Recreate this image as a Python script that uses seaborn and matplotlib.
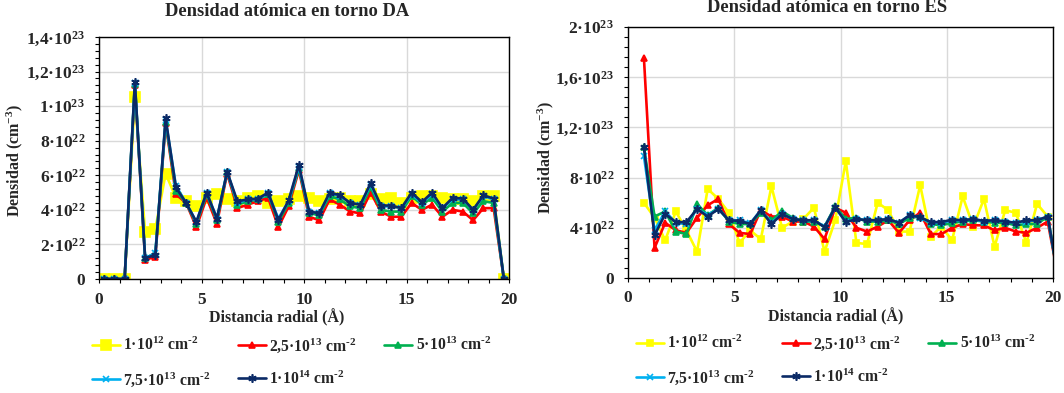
import matplotlib
matplotlib.use("Agg")
import matplotlib.pyplot as plt
import numpy as np
import pandas as pd
import seaborn as sns
from matplotlib.ticker import MultipleLocator

# ------------------------------------------------------------
# Data (densities in units of 1e22 cm^-3)
# ------------------------------------------------------------
SCALE = 1e22

x_da = [0.25, 0.75, 1.25, 1.75, 2.25, 2.75, 3.25, 3.75, 4.25, 4.75,
        5.25, 5.75, 6.25, 6.75, 7.25, 7.75, 8.25, 8.75, 9.25, 9.75,
        10.25, 10.75, 11.25, 11.75, 12.25, 12.75, 13.25, 13.75, 14.25, 14.75,
        15.25, 15.75, 16.25, 16.75, 17.25, 17.75, 18.25, 18.75, 19.25, 19.75]

da_1e12 = [0, 0, 0, 10.5, 2.7, 2.9, 6.1, 4.7, 4.5, 4.2,
           4.7, 4.9, 4.6, 4.5, 4.7, 4.8, 4.4, 4.5, 4.6, 4.8,
           4.7, 4.5, 4.6, 4.7, 4.5, 4.5, 4.9, 4.6, 4.7, 4.4,
           4.7, 4.8, 4.8, 4.7, 4.6, 4.6, 4.5, 4.8, 4.8, 0]
da_25e13 = [0, 0, 0, 11.2, 1.1, 1.3, 9.0, 4.9, 4.4, 3.0,
            4.7, 3.2, 6.1, 4.1, 4.3, 4.5, 4.7, 3.0, 4.2, 6.3,
            3.6, 3.4, 4.6, 4.3, 3.9, 3.8, 5.0, 3.9, 3.6, 3.6,
            4.4, 4.0, 4.3, 3.6, 4.0, 3.9, 3.4, 4.1, 4.1, 0]
da_5e13 = [0, 0, 0, 11.3, 1.2, 1.5, 9.1, 5.1, 4.4, 3.2,
           4.9, 3.4, 6.2, 4.3, 4.5, 4.6, 4.9, 3.3, 4.4, 6.4,
           3.8, 3.7, 4.8, 4.6, 4.2, 4.1, 5.3, 4.0, 3.9, 3.9,
           4.8, 4.3, 4.7, 3.9, 4.4, 4.4, 3.8, 4.5, 4.4, 0]
da_75e13 = [0, 0, 0, 11.35, 1.2, 1.5, 9.2, 5.4, 4.4, 3.3,
            5.0, 3.5, 6.2, 4.4, 4.6, 4.6, 4.95, 3.5, 4.5, 6.5,
            3.9, 3.8, 4.95, 4.8, 4.4, 4.3, 5.45, 4.2, 4.2, 4.1,
            4.9, 4.4, 4.9, 4.1, 4.6, 4.6, 4.0, 4.8, 4.6, 0]
da_1e14 = [0, 0, 0, 11.4, 1.2, 1.4, 9.3, 5.3, 4.4, 3.3,
           5.0, 3.5, 6.2, 4.5, 4.6, 4.65, 5.0, 3.4, 4.55, 6.6,
           3.9, 3.8, 5.0, 4.85, 4.4, 4.3, 5.55, 4.25, 4.25, 4.1,
           5.0, 4.45, 5.0, 4.1, 4.7, 4.65, 4.0, 4.85, 4.65, 0]

x_es = [0.75, 1.25, 1.75, 2.25, 2.75, 3.25, 3.75, 4.25, 4.75, 5.25,
        5.75, 6.25, 6.75, 7.25, 7.75, 8.25, 8.75, 9.25, 9.75, 10.25,
        10.75, 11.25, 11.75, 12.25, 12.75, 13.25, 13.75, 14.25, 14.75, 15.25,
        15.75, 16.25, 16.75, 17.25, 17.75, 18.25, 18.75, 19.25, 19.75, 20.25]

es_1e12 = [6.0, 4.8, 3.0, 5.3, 3.8, 2.1, 7.1, 6.3, 5.2, 2.8,
           3.8, 3.1, 7.3, 4.0, 4.5, 4.7, 5.6, 2.1, 4.6, 9.3,
           2.8, 2.7, 6.0, 5.4, 3.7, 3.7, 7.4, 3.3, 4.1, 3.0,
           6.5, 4.1, 6.3, 2.5, 5.4, 5.2, 2.8, 5.9, 4.9, 0]
es_25e13 = [17.5, 2.4, 4.4, 3.8, 3.6, 4.8, 5.8, 6.3, 4.3, 3.6,
            3.5, 5.4, 4.9, 4.9, 4.5, 4.5, 4.1, 3.1, 5.6, 5.2,
            4.0, 3.7, 4.1, 4.6, 3.6, 4.6, 5.2, 3.5, 3.5, 4.0,
            4.3, 4.2, 4.2, 3.8, 4.0, 3.7, 3.6, 4.0, 4.5, 0]
es_5e13 = [10.4, 4.9, 5.3, 3.7, 3.5, 5.9, 5.0, 5.6, 4.5, 4.3,
           4.3, 5.2, 4.6, 5.3, 4.8, 4.5, 4.5, 4.1, 5.7, 4.7,
           4.8, 4.5, 4.5, 4.6, 4.3, 4.8, 4.9, 4.3, 4.2, 4.4,
           4.5, 4.6, 4.5, 4.4, 4.4, 4.2, 4.3, 4.3, 4.9, 0]
es_75e13 = [9.7, 3.8, 5.3, 4.4, 4.3, 5.5, 5.0, 5.5, 4.6, 4.6,
            4.35, 5.4, 4.4, 5.1, 4.7, 4.6, 4.6, 4.1, 5.6, 4.5,
            4.7, 4.6, 4.6, 4.7, 4.4, 5.0, 4.8, 4.4, 4.4, 4.6,
            4.6, 4.7, 4.5, 4.6, 4.5, 4.4, 4.5, 4.6, 4.9, 0]
es_1e14 = [10.4, 3.4, 5.1, 4.45, 4.45, 5.5, 4.9, 5.5, 4.6, 4.55,
           4.3, 5.4, 4.3, 5.1, 4.7, 4.6, 4.6, 4.05, 5.65, 4.45,
           4.7, 4.6, 4.6, 4.7, 4.4, 5.0, 4.85, 4.45, 4.45, 4.65,
           4.6, 4.7, 4.55, 4.6, 4.5, 4.4, 4.6, 4.6, 4.9, 0]

series_labels = [
    r"1·10$^{12}$ cm$^{\text{-}2}$",
    r"2,5·10$^{13}$ cm$^{\text{-}2}$",
    r"5·10$^{13}$ cm$^{\text{-}2}$",
    r"7,5·10$^{13}$ cm$^{\text{-}2}$",
    r"1·10$^{14}$ cm$^{\text{-}2}$",
]

da_ticks = [0, 2, 4, 6, 8, 10, 12, 14]
da_ticklabels = ["0", "2·10$^{22}$", "4·10$^{22}$", "6·10$^{22}$", "8·10$^{22}$",
                 "1·10$^{23}$", "1,2·10$^{23}$", "1,4·10$^{23}$"]
es_ticks = [0, 4, 8, 12, 16, 20]
es_ticklabels = ["0", "4·10$^{22}$", "8·10$^{22}$", "1,2·10$^{23}$",
                 "1,6·10$^{23}$", "2·10$^{23}$"]

# ------------------------------------------------------------
# Style
# ------------------------------------------------------------
sns.set_style("white")
plt.rcParams["font.family"] = ["Liberation Serif", "DejaVu Serif"]
plt.rcParams["font.weight"] = "bold"
plt.rcParams["mathtext.fontset"] = "custom"
plt.rcParams["mathtext.rm"] = "Liberation Serif:bold"
plt.rcParams["mathtext.bf"] = "Liberation Serif:bold"
plt.rcParams["mathtext.it"] = "Liberation Serif:bold"
plt.rcParams["mathtext.default"] = "rm"

colors  = ["#FFFF00", "#FF0000", "#00B050", "#00B0F0", "#0B2A66"]
markers = ["s", "^", "^", "x", (6, 2, 0)]

fig = plt.figure(figsize=(10.64, 3.93), dpi=100)
ax_da = fig.add_axes([99 / 1064, 1 - 279 / 393, 410 / 1064, 242 / 393])
ax_es = fig.add_axes([628 / 1064, 1 - 278 / 393, 425 / 1064, 251 / 393])


def draw_panel(ax, x, ys, ticks, ticklabels, ymax, minor, msizes):
    for y, lab, c, m, ms in zip(ys, series_labels, colors, markers, msizes):
        df = pd.DataFrame({"x": x, "y": np.array(y) * SCALE})
        sns.lineplot(data=df, x="x", y="y", ax=ax, color=c, marker=m,
                     markersize=ms, markeredgecolor=c, markeredgewidth=1.2,
                     linewidth=1.9, label=lab, legend=False)
    ax.set_xlim(0, 20)
    ax.set_ylim(0, ymax * SCALE)
    ax.set_xticks([0, 5, 10, 15, 20])
    ax.xaxis.set_minor_locator(MultipleLocator(1))
    ax.set_yticks(np.array(ticks) * SCALE)
    ax.set_yticklabels(ticklabels)
    ax.yaxis.set_minor_locator(MultipleLocator(minor * SCALE))
    ax.grid(True, which="major", color="#D9D9D9", linewidth=1.0)
    ax.set_axisbelow(True)
    for s in ax.spines.values():
        s.set_color("black")
        s.set_linewidth(1.0)
    ax.tick_params(axis="both", which="both", direction="out", color="black",
                   length=3, width=0.8, labelsize=12.5)
    ax.tick_params(axis="y", which="both", left=True, pad=7)
    ax.tick_params(axis="x", which="both", bottom=True, pad=6)
    ax.set_xlabel("Distancia radial (Å)", fontsize=11.5, fontweight="bold")
    ax.set_ylabel("Densidad (cm$^{-3}$)", fontsize=11.5, fontweight="bold")


draw_panel(ax_da, x_da, [da_1e12, da_25e13, da_5e13, da_75e13, da_1e14],
           da_ticks, da_ticklabels, 14, 0.4, [7, 5, 5, 5, 6])
draw_panel(ax_es, x_es, [es_1e12, es_25e13, es_5e13, es_75e13, es_1e14],
           es_ticks, es_ticklabels, 20, 0.8, [5, 5, 5, 5, 6])

ax_da.xaxis.set_label_coords(0.434, -0.124)
ax_da.yaxis.set_label_coords(-0.18, 0.49)
ax_es.xaxis.set_label_coords(0.489, -0.12)
ax_es.yaxis.set_label_coords(-0.17, 0.48)

fig.text(287 / 1064, 1 - 12 / 393, "Densidad atómica en torno DA",
         ha="center", va="center", fontsize=13.3, fontweight="bold")
fig.text(827 / 1064, 1 - 7 / 393, "Densidad atómica en torno ES",
         ha="center", va="center", fontsize=13.3, fontweight="bold")

# legend filled row by row, as in the reference
order = [0, 3, 1, 4, 2]
for ax, x0, y0 in [(ax_da, 92 / 1064, 1 - 336 / 393), (ax_es, 636 / 1064, 1 - 334 / 393)]:
    h, l = ax.get_legend_handles_labels()
    ax.legend([h[i] for i in order], [l[i] for i in order], loc="upper left",
              bbox_to_anchor=(x0, y0), bbox_transform=fig.transFigure,
              ncol=3, frameon=False, fontsize=11.3, handlelength=1.8,
              handletextpad=0.2, columnspacing=1.75, labelspacing=1.0,
              borderpad=0, borderaxespad=0)

fig.savefig("out.png", dpi=100)
